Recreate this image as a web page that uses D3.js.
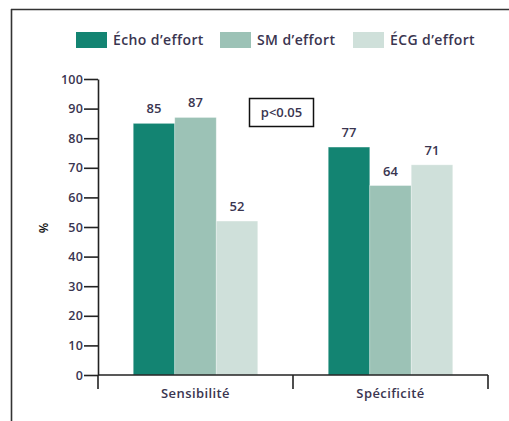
<!DOCTYPE html>
<html><head><meta charset="utf-8">
<script src="https://cdn.jsdelivr.net/npm/d3@7"></script>
<style>body{margin:0;background:#fff}svg{display:block}text{font-family:"Open Sans",sans-serif;font-weight:600}</style>
</head><body>
<script>
const categories = ["Sensibilité", "Spécificité"];
const seriesNames = ["Écho d’effort", "SM d’effort", "ÉCG d’effort"];
const echo = [85, 77];
const sm = [87, 64];
const ecg = [52, 71];
const yTicks = [0,10,20,30,40,50,60,70,80,90,100];
const colors = ["#138472", "#9cc2b6", "#cfe0da"];
const seriesVals = [echo, sm, ecg];

const W = 509, H = 421;
const svg = d3.select("body").append("svg").attr("width", W).attr("height", H);
const txt = "#3a3550";

// frame
svg.append("line").attr("x1",11).attr("x2",W).attr("y1",9.5).attr("y2",9.5).attr("stroke","#333").attr("stroke-width",1.6);
svg.append("line").attr("x1",11.5).attr("x2",11.5).attr("y1",9).attr("y2",H).attr("stroke","#333").attr("stroke-width",1.6);

const y = d3.scaleLinear().domain([0,100]).range([375,79]);
const x0 = d3.scaleBand().domain(categories).range([98,488]).padding(0);
const x1 = d3.scaleBand().domain(seriesNames).range([0,x0.bandwidth()]).paddingInner(0).paddingOuter(0.85);

// bars
categories.forEach((c,i)=>{
  seriesNames.forEach((s,j)=>{
    const v = seriesVals[j][i];
    svg.append("rect").attr("x",x0(c)+x1(s)).attr("y",y(v)).attr("width",x1.bandwidth()).attr("height",y(0)-y(v))
      .attr("fill",colors[j]).attr("stroke","#ffffff").attr("stroke-opacity",0.35).attr("stroke-width",0.8);
    svg.append("text").attr("x",x0(c)+x1(s)+x1.bandwidth()/2).attr("y",y(v)-10).attr("text-anchor","middle")
      .attr("font-size",13).attr("fill",txt).text(v);
  });
});

// y axis
const yAxis = d3.axisLeft(y).tickValues(yTicks).tickSize(14).tickSizeOuter(0).tickPadding(1);
const gy = svg.append("g").attr("transform","translate(98,0)").call(yAxis);
gy.select(".domain").attr("stroke","#222").attr("stroke-width",1.6);
gy.selectAll(".tick line").attr("stroke","#222").attr("stroke-width",1.6);
gy.selectAll(".tick text").attr("font-size",12.5).attr("fill",txt).attr("font-family","Open Sans, sans-serif").attr("font-weight",600).attr("letter-spacing","0.2");

// x axis
const gx = svg.append("g").attr("transform","translate(0,375)");
gx.append("line").attr("x1",98).attr("x2",488).attr("y1",0).attr("y2",0).attr("stroke","#222").attr("stroke-width",1.6);
const bounds = [98, x0(categories[1]), 488];
bounds.forEach(b=>gx.append("line").attr("x1",b).attr("x2",b).attr("y1",0).attr("y2",14).attr("stroke","#222").attr("stroke-width",1.6));
categories.forEach(c=>gx.append("text").attr("x",x0(c)+x0.bandwidth()/2).attr("y",23).attr("text-anchor","middle")
  .attr("font-size",13).attr("letter-spacing","0.4").attr("fill",txt).text(c));

// y label
svg.append("text").attr("transform","translate(43,228) rotate(90)").attr("text-anchor","middle").attr("dominant-baseline","central")
  .attr("font-size",12).attr("font-weight","bold").attr("fill","#111").text("%");

// legend
const legX = [76, 220, 353];
seriesNames.forEach((s,j)=>{
  svg.append("rect").attr("x",legX[j]).attr("y",32).attr("width",31).attr("height",16).attr("fill",colors[j]);
  svg.append("text").attr("x",legX[j]+37).attr("y",45).attr("font-size",14).attr("letter-spacing","0.4").attr("fill",txt).text(s);
});

// p box
svg.append("rect").attr("x",249.5).attr("y",98.5).attr("width",64).attr("height",28).attr("fill","none").attr("stroke","#111").attr("stroke-width",1.5);
svg.append("text").attr("x",281.5).attr("y",117).attr("text-anchor","middle").attr("font-size",13).attr("fill",txt).text("p<0.05");
</script>
</body></html>
